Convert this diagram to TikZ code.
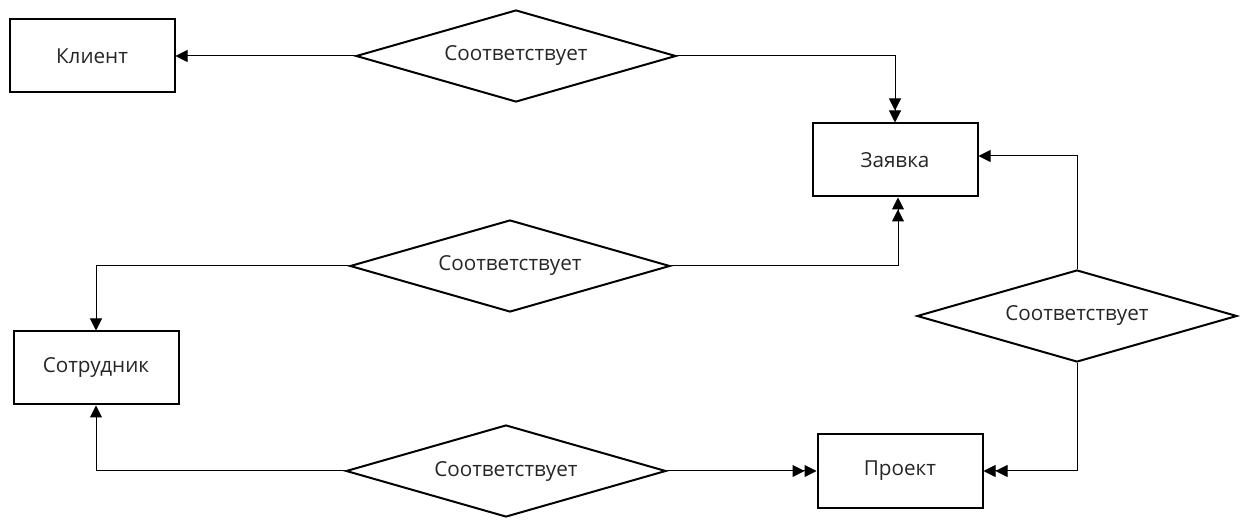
\documentclass[tikz,border=0pt]{standalone}
\usepackage{fontspec}
\setmainfont{Open Sans}
\usetikzlibrary{shapes.geometric,arrows.meta}
\begin{document}
\begin{tikzpicture}[x=0.75pt,y=-0.75pt,
  label font/.style={font=\fontsize{15.5}{18}\selectfont,text=black!85},
  entity/.style={draw,line width=1.5pt,minimum width=123.75pt,minimum height=54.75pt,inner sep=0pt,label font},
  relation/.style={draw,diamond,line width=1.5pt,minimum width=240pt,minimum height=69pt,inner sep=0pt,aspect=3.5,label font},
  link/.style={line width=0.75pt},
  one/.style={link,-{Triangle[length=9pt,width=9pt]}},
  many/.style={link,-{Triangle[length=9pt,width=9pt]Triangle[length=9pt,width=9pt]}}]
  \useasboundingbox (0,0) rectangle (1240,520);
  % entities
  \node[entity] (kli) at (92,56) {Клиент};
  \node[entity] (zay) at (895,160) {Заявка};
  \node[entity] (sot) at (96,368) {Сотрудник};
  \node[entity] (pro) at (900,471) {Проект};
  % relationships
  \node[relation] (r1) at (516,56) {Соответствует};
  \node[relation] (r2) at (510,266) {Соответствует};
  \node[relation] (r3) at (506,471) {Соответствует};
  \node[relation] (r4) at (1077,316) {Соответствует};
  % connectors
  \draw[one] (r1.west) -- (kli.east);
  \draw[many] (r1.east) -| (zay.north);
  \draw[many] (r2.east) -| ([xshift=3*0.75pt]zay.south);
  \draw[one] (r2.west) -| (sot.north);
  \draw[one] (r4.north) |- ([yshift=3pt]zay.east);
  \draw[many] (r4.south) |- (pro.east);
  \draw[one] (r3.west) -| (sot.south);
  \draw[many] (r3.east) -- (pro.west);
\end{tikzpicture}
\end{document}
